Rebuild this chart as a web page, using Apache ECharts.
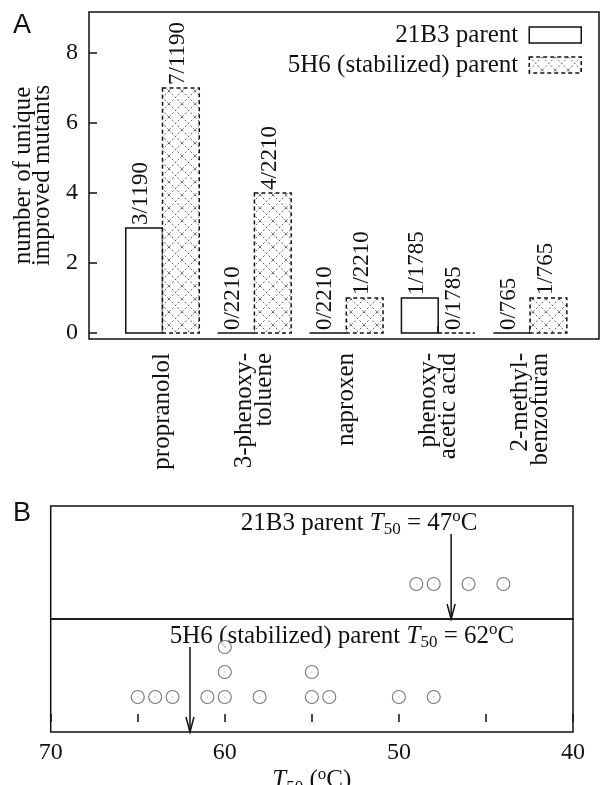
<!DOCTYPE html>
<html>
<head>
<meta charset="utf-8">
<script src="https://cdn.jsdelivr.net/npm/echarts@6/dist/echarts.min.js"></script>
<style>
html,body{margin:0;padding:0;background:#fff;}
#chart{width:602px;height:785px;}
</style>
</head>
<body>
<div id="chart"></div>
<script>
// ---------- DATA ----------
const categories = ['propranolol', '3-phenoxy-\ntoluene', 'naproxen', 'phenoxy-\nacetic acid', '2-methyl-\nbenzofuran'];
const parent21B3 = [3, 0, 0, 1, 0];
const parent5H6 = [7, 4, 1, 0, 1];
const labels21B3 = ['3/1190', '0/2210', '0/2210', '1/1785', '0/765'];
const labels5H6 = ['7/1190', '4/2210', '1/2210', '0/1785', '1/765'];
const yTicksA = [0, 2, 4, 6, 8];
const t50_21B3 = [49, 48, 46, 44];
const t50_5H6 = [65, 64, 63, 61, 60, 60, 60, 58, 55, 55, 54, 50, 48];
const parentT50_21B3 = 47;
const parentT50_5H6 = 62;
const xLabelsB = [70, 60, 50, 40];
const seriesNames = ['21B3 parent', '5H6 (stabilized) parent'];

// ---------- HELPERS ----------
const SERIF = '"Liberation Serif", "DejaVu Serif", serif';
const FS = 25;
function makeHatch() {
  const c = document.createElement('canvas');
  c.width = 13; c.height = 13;
  const g = c.getContext('2d');
  g.fillStyle = '#fff'; g.fillRect(0, 0, 13, 13);
  g.strokeStyle = '#555'; g.lineWidth = 0.9;
  g.setLineDash([2, 2]);
  g.beginPath();
  g.moveTo(0, 0); g.lineTo(13, 13);
  g.moveTo(13, 0); g.lineTo(0, 13);
  g.stroke();
  return c;
}
const hatch = { image: makeHatch(), repeat: 'repeat' };

function stackPoints(vals) {
  const seen = {};
  return vals.map(v => { seen[v] = (seen[v] || 0) + 1; return [v, seen[v]]; });
}

const richT = {
  i: { fontFamily: SERIF, fontSize: FS, fontStyle: 'italic', lineHeight: 30, fill: '#111', color: '#111' },
  n: { fontFamily: SERIF, fontSize: FS, lineHeight: 30, fill: '#111', color: '#111' },
  sub: { fontFamily: SERIF, fontSize: 17, lineHeight: 17, padding: [13, 0, 0, 0], fill: '#111', color: '#111' },
  sup: { fontFamily: SERIF, fontSize: 17, lineHeight: 17, padding: [0, 0, 13, 0], fill: '#111', color: '#111' }
};

function barRenderer(s, labels) {
  return function (params, api) {
    const x = api.value(0), y = api.value(1);
    const x0 = s === 0 ? x - 0.4 : x;
    const x1 = s === 0 ? x : x + 0.4;
    const p0 = api.coord([x0, y]);
    const p1 = api.coord([x1, 0]);
    const style = s === 0
      ? { fill: 'none', stroke: '#111', lineWidth: 1.5 }
      : { fill: hatch, stroke: '#111', lineWidth: 1.5, lineDash: [4, 3] };
    return {
      type: 'group',
      children: [
        { type: 'rect', shape: { x: p0[0], y: p0[1], width: p1[0] - p0[0], height: p1[1] - p0[1] }, style: style },
        { type: 'text', x: (p0[0] + p1[0]) / 2 - 3, y: p0[1] - 3, rotation: Math.PI / 2,
          style: { text: labels[params.dataIndex], font: '23px ' + SERIF, fill: '#111', align: 'left', verticalAlign: 'middle' } }
      ]
    };
  };
}

function arrowRenderer(label, dx) {
  return function (params, api) {
    const x = api.value(0);
    const top = api.coord([x, 3.0]);
    const tip = api.coord([x, -0.4]);
    return {
      type: 'group',
      children: [
        { type: 'line', shape: { x1: top[0], y1: top[1], x2: tip[0], y2: tip[1] }, style: { stroke: '#111', lineWidth: 1.5 } },
        { type: 'polyline', shape: { points: [[tip[0] - 4, tip[1] - 15], [tip[0], tip[1]], [tip[0] + 4, tip[1] - 15]] }, style: { stroke: '#111', lineWidth: 1.5, fill: 'none' } },
        { type: 'text', x: top[0] + dx, y: top[1] - 11,
          style: { text: label, rich: richT, align: 'center', verticalAlign: 'middle', fill: '#111', font: FS + 'px ' + SERIF } }
      ]
    };
  };
}

// ---------- CHART ----------
const chart = echarts.init(document.getElementById('chart'), null, { renderer: 'canvas' });
const borderStyle = { show: true, borderColor: '#111', borderWidth: 1.5, backgroundColor: 'transparent', containLabel: false, outerBoundsMode: 'none' };

const option = {
  animation: false,
  backgroundColor: '#fff',
  title: [
    { text: 'A', left: 13, top: 12, padding: 0, textStyle: { fontFamily: '"Liberation Sans", Arial, sans-serif', fontSize: 27, fontWeight: 'normal', color: '#111' } },
    { text: 'B', left: 13, top: 500, padding: 0, textStyle: { fontFamily: '"Liberation Sans", Arial, sans-serif', fontSize: 27, fontWeight: 'normal', color: '#111' } }
  ],
  legend: {
    orient: 'vertical', right: 20, top: 20, padding: 0, itemGap: 0,
    itemWidth: 52, itemHeight: 16, align: 'right',
    textStyle: { fontFamily: SERIF, fontSize: FS, color: '#111', lineHeight: 30, padding: [0, 6, 0, 0] },
    data: [
      { name: seriesNames[0], icon: 'rect', itemStyle: { color: '#fff', borderColor: '#111', borderWidth: 1.5 } },
      { name: seriesNames[1], icon: 'rect', itemStyle: { color: hatch, borderColor: '#111', borderWidth: 1.5, borderType: [4, 3] } }
    ]
  },
  grid: [
    Object.assign({ left: 89, top: 12, width: 510, height: 327 }, borderStyle),
    Object.assign({ left: 50.7, top: 506, width: 522.3, height: 113 }, borderStyle),
    Object.assign({ left: 50.7, top: 619, width: 522.3, height: 113 }, borderStyle)
  ],
  xAxis: [
    { gridIndex: 0, type: 'value', min: 0.2, max: 5.75,
      axisLine: { show: false }, splitLine: { show: false },
      axisTick: { show: true, inside: true, length: 7, customValues: [1, 2, 3, 4, 5], lineStyle: { color: '#111', width: 1.5 } },
      axisLabel: { show: true, customValues: [1, 2, 3, 4, 5], rotate: 90, margin: 14,
        formatter: v => categories[Math.round(v) - 1] || '',
        fontFamily: SERIF, fontSize: FS, color: '#111', lineHeight: 20 } },
    { gridIndex: 1, type: 'value', min: 40, max: 70, inverse: true,
      axisLine: { show: false }, splitLine: { show: false }, axisTick: { show: false }, axisLabel: { show: false } },
    { gridIndex: 2, type: 'value', min: 40, max: 70, interval: 5, inverse: true,
      axisLine: { show: false }, splitLine: { show: false },
      axisTick: { show: true, inside: true, length: 8, lineStyle: { color: '#111', width: 1.5 } },
      axisLabel: { show: true, customValues: xLabelsB, margin: 9, fontFamily: SERIF, fontSize: 24, color: '#111' },
      name: '{i|T}{sub|50}{n| (}{sup|o}{n|C)}', nameLocation: 'middle', nameGap: 28,
      nameTextStyle: { rich: richT, fontFamily: SERIF, fontSize: FS, color: '#111' } }
  ],
  yAxis: [
    { gridIndex: 0, type: 'value', min: -0.17, max: 9.17,
      axisLine: { show: false }, splitLine: { show: false },
      axisTick: { show: true, inside: true, length: 8, customValues: yTicksA, lineStyle: { color: '#111', width: 1.5 } },
      axisLabel: { show: true, customValues: yTicksA, margin: 11, fontFamily: SERIF, fontSize: 24, color: '#111' },
      name: 'number of unique\nimproved mutants', nameLocation: 'middle', nameRotate: 90, nameGap: 24,
      nameTextStyle: { fontFamily: SERIF, fontSize: FS, color: '#111', lineHeight: 19 } },
    { gridIndex: 1, type: 'value', min: -0.4, max: 4.12, show: false },
    { gridIndex: 2, type: 'value', min: -0.4, max: 4.12, show: false }
  ],
  series: [
    { name: seriesNames[0], type: 'custom', xAxisIndex: 0, yAxisIndex: 0,
      itemStyle: { color: '#fff', borderColor: '#111' },
      renderItem: barRenderer(0, labels21B3), data: parent21B3.map((v, i) => [i + 1, v]) },
    { name: seriesNames[1], type: 'custom', xAxisIndex: 0, yAxisIndex: 0,
      itemStyle: { color: hatch, borderColor: '#111' },
      renderItem: barRenderer(1, labels5H6), data: parent5H6.map((v, i) => [i + 1, v]) },
    { type: 'scatter', xAxisIndex: 1, yAxisIndex: 1, symbol: 'circle', symbolSize: 13,
      itemStyle: { color: '#fff', borderColor: '#555', borderWidth: 1.1 }, data: stackPoints(t50_21B3) },
    { type: 'scatter', xAxisIndex: 2, yAxisIndex: 2, symbol: 'circle', symbolSize: 13,
      itemStyle: { color: '#fff', borderColor: '#555', borderWidth: 1.1 }, data: stackPoints(t50_5H6) },
    { type: 'scatter', xAxisIndex: 1, yAxisIndex: 1, symbol: 'circle', symbolSize: 1.5, z: 3,
      itemStyle: { color: '#aaa' }, data: stackPoints(t50_21B3) },
    { type: 'scatter', xAxisIndex: 2, yAxisIndex: 2, symbol: 'circle', symbolSize: 1.5, z: 3,
      itemStyle: { color: '#aaa' }, data: stackPoints(t50_5H6) },
    { type: 'custom', xAxisIndex: 1, yAxisIndex: 1, data: [[parentT50_21B3]],
      renderItem: arrowRenderer('{n|21B3 parent }{i|T}{sub|50}{n| = ' + parentT50_21B3 + '}{sup|o}{n|C}', -92) },
    { type: 'custom', xAxisIndex: 2, yAxisIndex: 2, data: [[parentT50_5H6]],
      renderItem: arrowRenderer('{n|5H6 (stabilized) parent }{i|T}{sub|50}{n| = ' + parentT50_5H6 + '}{sup|o}{n|C}', 152) }
  ]
};
chart.setOption(option);
</script>
</body>
</html>
